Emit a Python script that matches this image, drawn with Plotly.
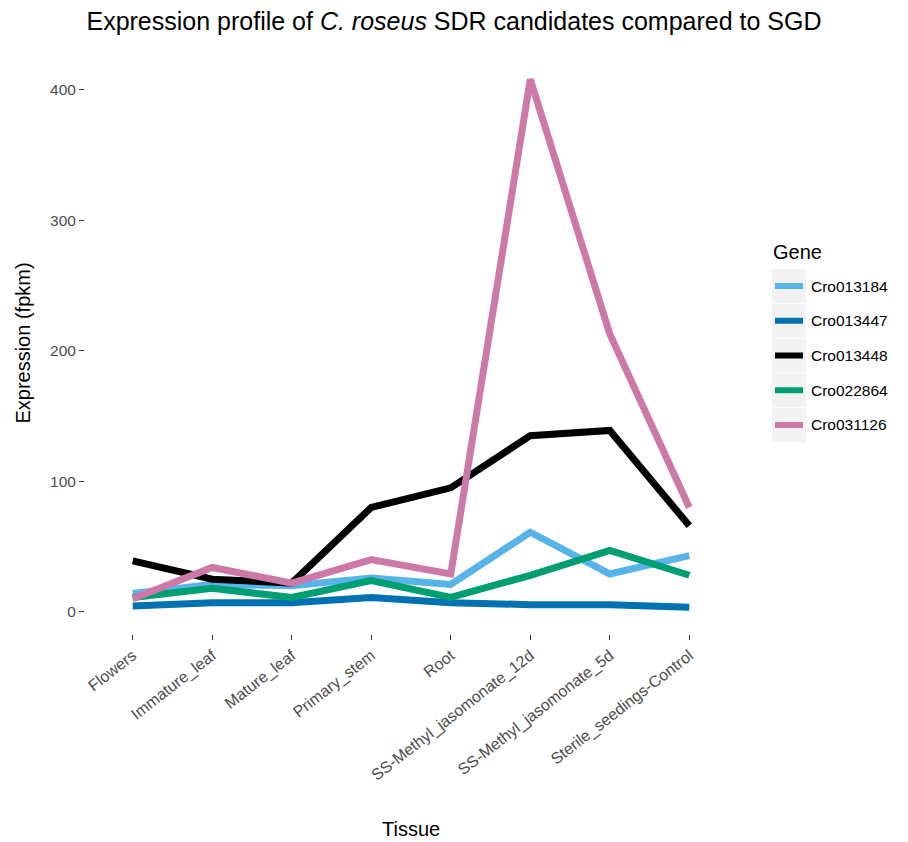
import plotly.graph_objects as go

# Tissues (x categories)
tissues = [
    "Flowers", "Immature_leaf", "Mature_leaf", "Primary_stem", "Root",
    "SS-Methyl_jasomonate_12d", "SS-Methyl_jasomonate_5d", "Sterile_seedings-Control",
]

# Expression (fpkm) per gene, in tissue order
cro013184 = [14, 21, 20, 26, 21, 61, 29, 43]
cro013447 = [4.5, 7, 7, 11, 7, 5.5, 5.5, 3.5]
cro013448 = [39, 25, 22, 80, 95, 135, 139, 66]
cro022864 = [11, 18, 11, 24, 11, 28, 47, 28]
cro031126 = [10, 34, 22, 40, 29, 408, 213, 80]

genes = ["Cro013184", "Cro013447", "Cro013448", "Cro022864", "Cro031126"]
series = [cro013184, cro013447, cro013448, cro022864, cro031126]
colors = ["#56B4E9", "#0072B2", "#000000", "#009E73", "#CC79A7"]

y_ticks = [0, 100, 200, 300, 400]

FONT = "Liberation Sans, Arial, sans-serif"
W, H = 908, 842
ML, MR, MT, MB = 85, 171, 52, 208
PW, PH = W - ML - MR, H - MT - MB

fig = go.Figure()
for name, vals, col in zip(genes, series, colors):
    fig.add_trace(go.Scatter(
        x=tissues, y=vals, mode="lines", name=name,
        line=dict(color=col, width=7), showlegend=False,
    ))


def px_x(px):
    return (px - ML) / PW


def px_y(py):
    return (H - MB - py) / PH


# Legend drawn as shapes + text, ggplot style (grey key boxes)
shapes = []
annotations = [dict(
    text="Gene", x=px_x(771), y=px_y(252), xref="paper", yref="paper",
    xanchor="left", yanchor="middle", showarrow=False,
    font=dict(family=FONT, size=20, color="#000000"),
)]
row0, step = 286, 34.75
for i, (name, col) in enumerate(zip(genes, colors)):
    cy = row0 + i * step
    shapes.append(dict(
        type="rect", xref="paper", yref="paper",
        x0=px_x(772), x1=px_x(806), y0=px_y(cy - 17), y1=px_y(cy + 17),
        fillcolor="#F2F2F2", line=dict(width=0), layer="above",
    ))
    shapes.append(dict(
        type="line", xref="paper", yref="paper",
        x0=px_x(775), x1=px_x(803), y0=px_y(cy), y1=px_y(cy),
        line=dict(color=col, width=6), layer="above",
    ))
    annotations.append(dict(
        text=name, x=px_x(809), y=px_y(cy), xref="paper", yref="paper",
        xanchor="left", yanchor="middle", showarrow=False,
        font=dict(family=FONT, size=15.5, color="#000000"),
    ))

# x-axis title placed in the bottom margin
annotations.append(dict(
    text="Tissue", x=0.5, y=px_y(829), xref="paper", yref="paper",
    xanchor="center", yanchor="middle", showarrow=False,
    font=dict(family=FONT, size=20, color="#000000"),
))

fig.update_layout(
    width=W, height=H,
    margin=dict(l=ML, r=MR, t=MT, b=MB, pad=0),
    paper_bgcolor="white", plot_bgcolor="white",
    font=dict(family=FONT, color="#000000"),
    title=dict(
        text="Expression profile of <i>C. roseus</i> SDR candidates compared to SGD",
        x=0.5, xanchor="center", y=1 - 21 / H, yanchor="middle",
        font=dict(family=FONT, size=25, color="#000000"),
    ),
    xaxis=dict(
        type="category", categoryorder="array", categoryarray=tissues,
        range=[-0.6, 7.6], showgrid=False, zeroline=False, showline=False,
        automargin=False,
        ticks="outside", ticklen=5, tickcolor="#333333", tickwidth=1,
        tickangle=-38, tickfont=dict(family=FONT, size=16, color="#4D4D4D"),
    ),
    yaxis=dict(
        range=[-17, 429], tickvals=y_ticks, ticktext=[str(v) for v in y_ticks],
        showgrid=False, zeroline=False, showline=False, automargin=False,
        ticks="outside", ticklen=5, tickcolor="#333333", tickwidth=1,
        tickfont=dict(family=FONT, size=15.5, color="#4D4D4D"),
        title=dict(text="Expression (fpkm)", font=dict(family=FONT, size=20, color="#000000"), standoff=14),
    ),
    shapes=shapes, annotations=annotations,
)

fig.write_html("out.html")
